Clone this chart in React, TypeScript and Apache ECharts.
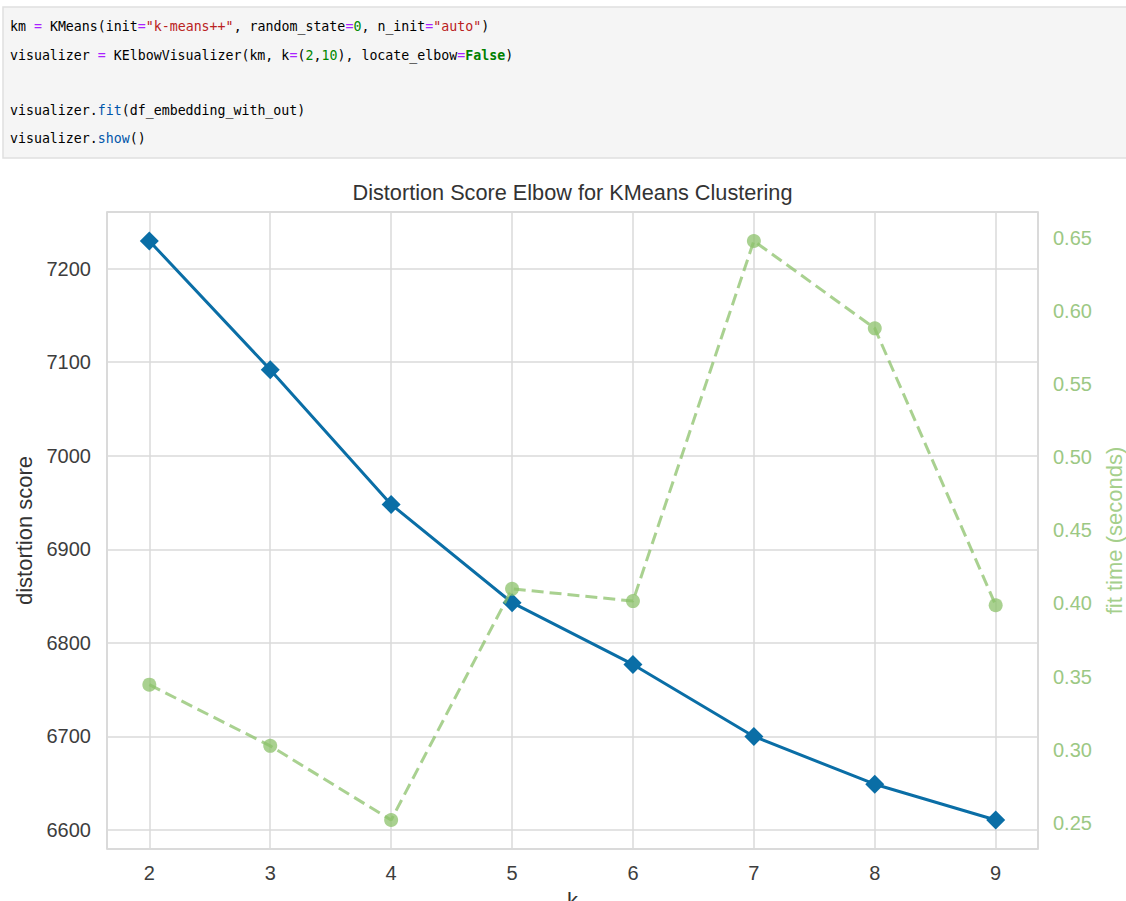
import React, { useEffect, useRef } from "react";
import * as echarts from "echarts";

const kValues = [2, 3, 4, 5, 6, 7, 8, 9];
const distortion = [7229.5, 7092, 6948, 6843, 6777, 6700, 6649, 6610.7];
const fitTime = [0.3445, 0.3027, 0.252, 0.41, 0.4016, 0.6477, 0.588, 0.3988];

const titleText = "Distortion Score Elbow for KMeans Clustering";
const xName = "k";
const yLeftName = "distortion score";
const yRightName = "fit time (seconds)";

// code cell tokens: [style, text]
const codeLines: [string, string][][] = [
  [["n", "km "], ["o", "="], ["n", " KMeans(init"], ["o", "="], ["s", "\"k-means++\""], ["n", ", random_state"], ["o", "="], ["d", "0"], ["n", ", n_init"], ["o", "="], ["s", "\"auto\""], ["n", ")"]],
  [["n", "visualizer "], ["o", "="], ["n", " KElbowVisualizer(km, k"], ["o", "="], ["n", "("], ["d", "2"], ["n", ","], ["d", "10"], ["n", "), locate_elbow"], ["o", "="], ["k", "False"], ["n", ")"]],
  [],
  [["n", "visualizer."], ["p", "fit"], ["n", "(df_embedding_with_out)"]],
  [["n", "visualizer."], ["p", "show"], ["n", "()"]],
];

const pad = (arr: number[]) => {
  const lo = Math.min(...arr);
  const hi = Math.max(...arr);
  const m = (hi - lo) * 0.05;
  return [lo - m, hi + m];
};

export default function App() {
  const ref = useRef<HTMLDivElement>(null);
  useEffect(() => {
    if (!ref.current) return;
    const chart = echarts.init(ref.current, null, { renderer: "svg" });
    const mono = "'DejaVu Sans Mono', 'Liberation Mono', monospace";
    const fs = 14.5;
    const mk = (fill: string, bold = false) => ({
      fontFamily: mono,
      fontSize: fs,
      fill,
      fontWeight: bold ? "bold" : "normal",
    });
    const rich: any = {
      n: mk("#000000"),
      o: mk("#AA22FF"),
      s: mk("#BA2121"),
      d: mk("#008800"),
      k: mk("#008000", true),
      p: mk("#0055AA"),
    };
    const lineY = [26, 54.5, 82, 110, 137.8];
    const codeGraphics: any[] = codeLines
      .map((toks, i) => ({ toks, i }))
      .filter((o) => o.toks.length > 0)
      .map(({ toks, i }) => ({
        type: "text",
        x: 10,
        y: lineY[i],
        scaleX: 0.915,
        silent: true,
        style: {
          text: toks.map(([s, t]) => `{${s}|${t}}`).join(""),
          rich,
          fontFamily: mono,
          fontSize: fs,
          fill: "#000000",
          verticalAlign: "middle",
          align: "left",
        },
      }));

    const xr = pad(kValues);
    const yl = pad(distortion);
    const yr = pad(fitTime);
    const sans = "'Liberation Sans', Arial, sans-serif";
    const green = "#8cc16b";
    const blue = "#0a6ea6";

    chart.setOption({
      animation: false,
      backgroundColor: "#ffffff",
      textStyle: { fontFamily: sans },
      graphic: [
        {
          type: "rect",
          shape: { x: 3, y: 7, width: 1130, height: 151 },
          style: { fill: "#f5f5f5", stroke: "#e0e0e0", lineWidth: 1.5 },
          silent: true,
        },
        ...codeGraphics,
        {
          type: "text",
          x: 572.5,
          y: 192,
          silent: true,
          style: {
            text: titleText,
            fontFamily: sans,
            fontSize: 21.7,
            fill: "#333333",
            align: "center",
            verticalAlign: "middle",
          },
        },
      ],
      grid: {
        left: 107,
        right: 88,
        top: 212,
        bottom: 52,
        show: true,
        borderColor: "#d0d0d0",
        borderWidth: 1.5,
        backgroundColor: "#ffffff",
        containLabel: false,
        outerBoundsMode: "none",
      },
      xAxis: {
        type: "value",
        min: xr[0],
        max: xr[1],
        splitNumber: 8,
        name: xName,
        nameLocation: "middle",
        nameGap: 40,
        nameTextStyle: { fontSize: 22, color: "#333333", fontFamily: sans },
        axisLine: { show: false },
        axisTick: { show: false },
        axisLabel: {
          fontSize: 20,
          color: "#3d3d3d",
          margin: 14,
          showMinLabel: false,
          showMaxLabel: false,
          fontFamily: sans,
          formatter: (v: number) => String(v),
        },
        splitLine: { show: true, lineStyle: { color: "#dadada", width: 1.5 } },
      },
      yAxis: [
        {
          type: "value",
          position: "left",
          min: yl[0],
          max: yl[1],
          splitNumber: 7,
          name: yLeftName,
          nameLocation: "middle",
          nameRotate: 90,
          nameGap: 71,
          nameTextStyle: { fontSize: 22, color: "#333333", fontFamily: sans },
          axisLine: { show: false },
          axisTick: { show: false },
          axisLabel: {
            fontSize: 20,
            color: "#3d3d3d",
            margin: 16,
            showMinLabel: false,
            showMaxLabel: false,
            fontFamily: sans,
            formatter: (v: number) => String(v),
          },
          splitLine: { show: true, lineStyle: { color: "#dadada", width: 1.5 } },
        },
        {
          type: "value",
          position: "right",
          min: yr[0],
          max: yr[1],
          splitNumber: 9,
          name: yRightName,
          nameLocation: "middle",
          nameRotate: 90,
          nameGap: 65,
          nameTextStyle: { fontSize: 22, color: "#a5cf8c", fontFamily: sans },
          axisLine: { show: false },
          axisTick: { show: false },
          axisLabel: {
            fontSize: 20,
            color: "#9cc884",
            margin: 15,
            showMinLabel: false,
            showMaxLabel: false,
            fontFamily: sans,
            formatter: (v: number) => v.toFixed(2),
          },
          splitLine: { show: false },
        },
      ],
      series: [
        {
          type: "line",
          name: "distortion score",
          yAxisIndex: 0,
          data: kValues.map((k, i) => [k, distortion[i]]),
          symbol: "diamond",
          symbolSize: 19,
          lineStyle: { color: blue, width: 3 },
          itemStyle: { color: blue },
          z: 2,
        },
        {
          type: "line",
          name: "fit time",
          yAxisIndex: 1,
          data: kValues.map((k, i) => [k, fitTime[i]]),
          symbol: "circle",
          symbolSize: 14,
          lineStyle: { color: green, width: 3, type: [12, 6], opacity: 0.75 },
          itemStyle: { color: green, opacity: 0.75 },
          z: 3,
        },
      ],
    });
    return () => chart.dispose();
  }, []);
  return (
    <div
      ref={ref}
      style={{ position: "absolute", left: 0, top: 0, width: 1126, height: 901 }}
    />
  );
}
